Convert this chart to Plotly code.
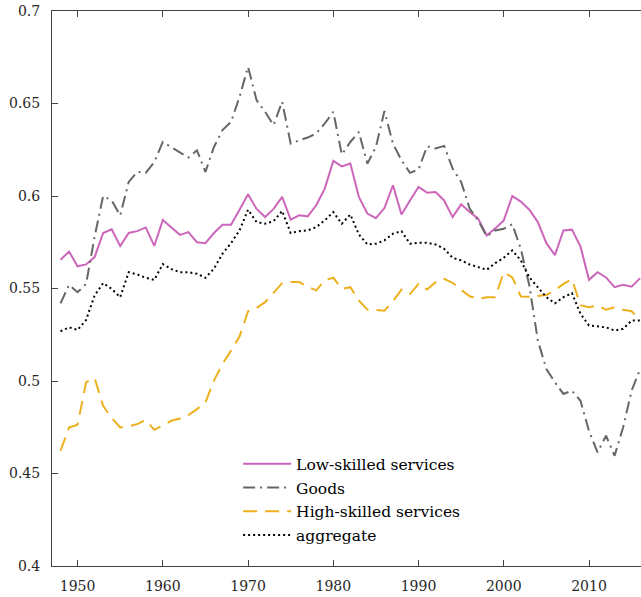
import plotly.graph_objects as go

years = list(range(1948, 2017))

low_skilled = [
    0.5655, 0.570, 0.562, 0.563, 0.567, 0.580, 0.582, 0.573, 0.580, 0.581,
    0.583, 0.573, 0.587, 0.583, 0.579, 0.5805, 0.575, 0.5745, 0.580, 0.5845,
    0.5845, 0.5926, 0.601, 0.593, 0.5886, 0.593, 0.5995, 0.5872, 0.5896, 0.589,
    0.595, 0.604, 0.619, 0.616, 0.6175, 0.5995, 0.5905, 0.588, 0.5935, 0.6058,
    0.590, 0.5976, 0.6049, 0.6018, 0.6022, 0.5976, 0.5886, 0.5955, 0.5913, 0.5877,
    0.5787, 0.5825, 0.5868, 0.600, 0.597, 0.5926, 0.5859, 0.5745, 0.568, 0.5814,
    0.5818, 0.5727, 0.5547, 0.5588, 0.556, 0.5507, 0.552, 0.551, 0.5556,
]

goods = [
    0.542, 0.552, 0.548, 0.5525, 0.578, 0.600, 0.5976, 0.5895, 0.6076, 0.613,
    0.6125, 0.6184, 0.6292, 0.6265, 0.6238, 0.6208, 0.6247, 0.613, 0.6265, 0.6356,
    0.640, 0.6536, 0.6698, 0.6518, 0.6455, 0.6383, 0.651, 0.6283, 0.6301, 0.6316,
    0.6338, 0.6392, 0.6455, 0.6224, 0.6292, 0.6346, 0.6175, 0.6265, 0.6459, 0.6283,
    0.6193, 0.6125, 0.6143, 0.6269, 0.6257, 0.6271, 0.6148, 0.6076, 0.5932, 0.5868,
    0.5782, 0.5814, 0.5823, 0.5847, 0.5715, 0.5516, 0.5218, 0.5065, 0.4993, 0.493,
    0.4948, 0.4893, 0.473, 0.4614, 0.4704, 0.4596, 0.4749, 0.4948, 0.5065,
]

high_skilled = [
    0.4623, 0.4749, 0.4764, 0.4993, 0.5016, 0.4866, 0.480, 0.4749, 0.4755, 0.4767,
    0.4789, 0.4736, 0.4760, 0.4785, 0.4797, 0.4816, 0.4848, 0.4884, 0.5002, 0.5092,
    0.5164, 0.524, 0.5377, 0.5395, 0.5426, 0.548, 0.5529, 0.5535, 0.5535, 0.551,
    0.549, 0.5545, 0.5558, 0.5498, 0.5507, 0.5435, 0.5386, 0.5384, 0.538, 0.5431,
    0.5494, 0.547, 0.5525, 0.5494, 0.5534, 0.5552, 0.5531, 0.5493, 0.5458, 0.5444,
    0.5453, 0.5453, 0.5588, 0.556, 0.5457, 0.5455, 0.546, 0.5465, 0.549, 0.5525,
    0.555, 0.541, 0.5399, 0.5408, 0.5385, 0.5399, 0.5385, 0.5377, 0.533,
]

aggregate = [
    0.5269, 0.529, 0.5276, 0.533, 0.5462, 0.5529, 0.5498, 0.5453, 0.5588, 0.5576,
    0.5558, 0.5547, 0.5632, 0.5605, 0.5588, 0.5588, 0.558, 0.5558, 0.5607, 0.5688,
    0.5745, 0.5814, 0.5926, 0.5859, 0.585, 0.5864, 0.5919, 0.580, 0.581, 0.5814,
    0.5832, 0.5868, 0.5913, 0.5850, 0.590, 0.5792, 0.5738, 0.5742, 0.576, 0.5796,
    0.581, 0.5742, 0.5747, 0.5747, 0.5738, 0.5715, 0.5666, 0.5652, 0.563, 0.5615,
    0.5601, 0.5637, 0.5666, 0.5706, 0.5652, 0.556, 0.5507, 0.5453, 0.542, 0.5453,
    0.5475, 0.5363, 0.530, 0.5294, 0.529, 0.5273, 0.5282, 0.5327, 0.5327,
]

series = [
    ("Low-skilled services", low_skilled, "#CC66BB", "solid"),
    ("Goods", goods, "#666666", "12px,5px,2px,5px"),
    ("High-skilled services", high_skilled, "#EDB120", "14px,8px"),
    ("aggregate", aggregate, "#000000", "2px,3px"),
]

serif = "DejaVu Serif"

fig = go.Figure()
for name, vals, color, dash in series:
    # one legend group per trace so tracegroupgap can widen the row spacing a little
    fig.add_trace(
        go.Scatter(
            x=years, y=vals, name=name, legendgroup=name, mode="lines",
            line=dict(color=color, width=2, dash=dash),
        )
    )

axis_style = dict(
    showline=True,
    linecolor="#444444",
    linewidth=1,
    ticks="inside",
    ticklen=6,
    tickcolor="#444444",
    showgrid=False,
    zeroline=False,
    ticklabeloverflow="allow",
    tickfont=dict(family=serif, size=14, color="#262626"),
)

fig.update_xaxes(range=[1947, 2016.1], tick0=1950, dtick=10, mirror="ticks", ticklabelstandoff=7, **axis_style)
fig.update_yaxes(range=[0.4, 0.7], tick0=0.4, dtick=0.05, ticklabelstandoff=8, **axis_style)

fig.update_layout(
    width=641,
    height=597,
    margin=dict(l=52, r=0, t=11, b=31, autoexpand=False),
    plot_bgcolor="white",
    paper_bgcolor="white",
    font=dict(family=serif, size=15.5, color="#000000"),
    legend=dict(
        x=0.316,
        y=0.214,
        xanchor="left",
        yanchor="top",
        bgcolor="rgba(0,0,0,0)",
        itemwidth=48,
        tracegroupgap=0.6,
        font=dict(family=serif, size=15.5, color="#000000"),
    ),
)

# drop the page's default body margin so the figure sits at the window origin
fig.write_html(
    "out.html",
    config={"displayModeBar": False},
    post_script="document.body.style.margin='0';document.body.style.overflow='hidden';",
)
